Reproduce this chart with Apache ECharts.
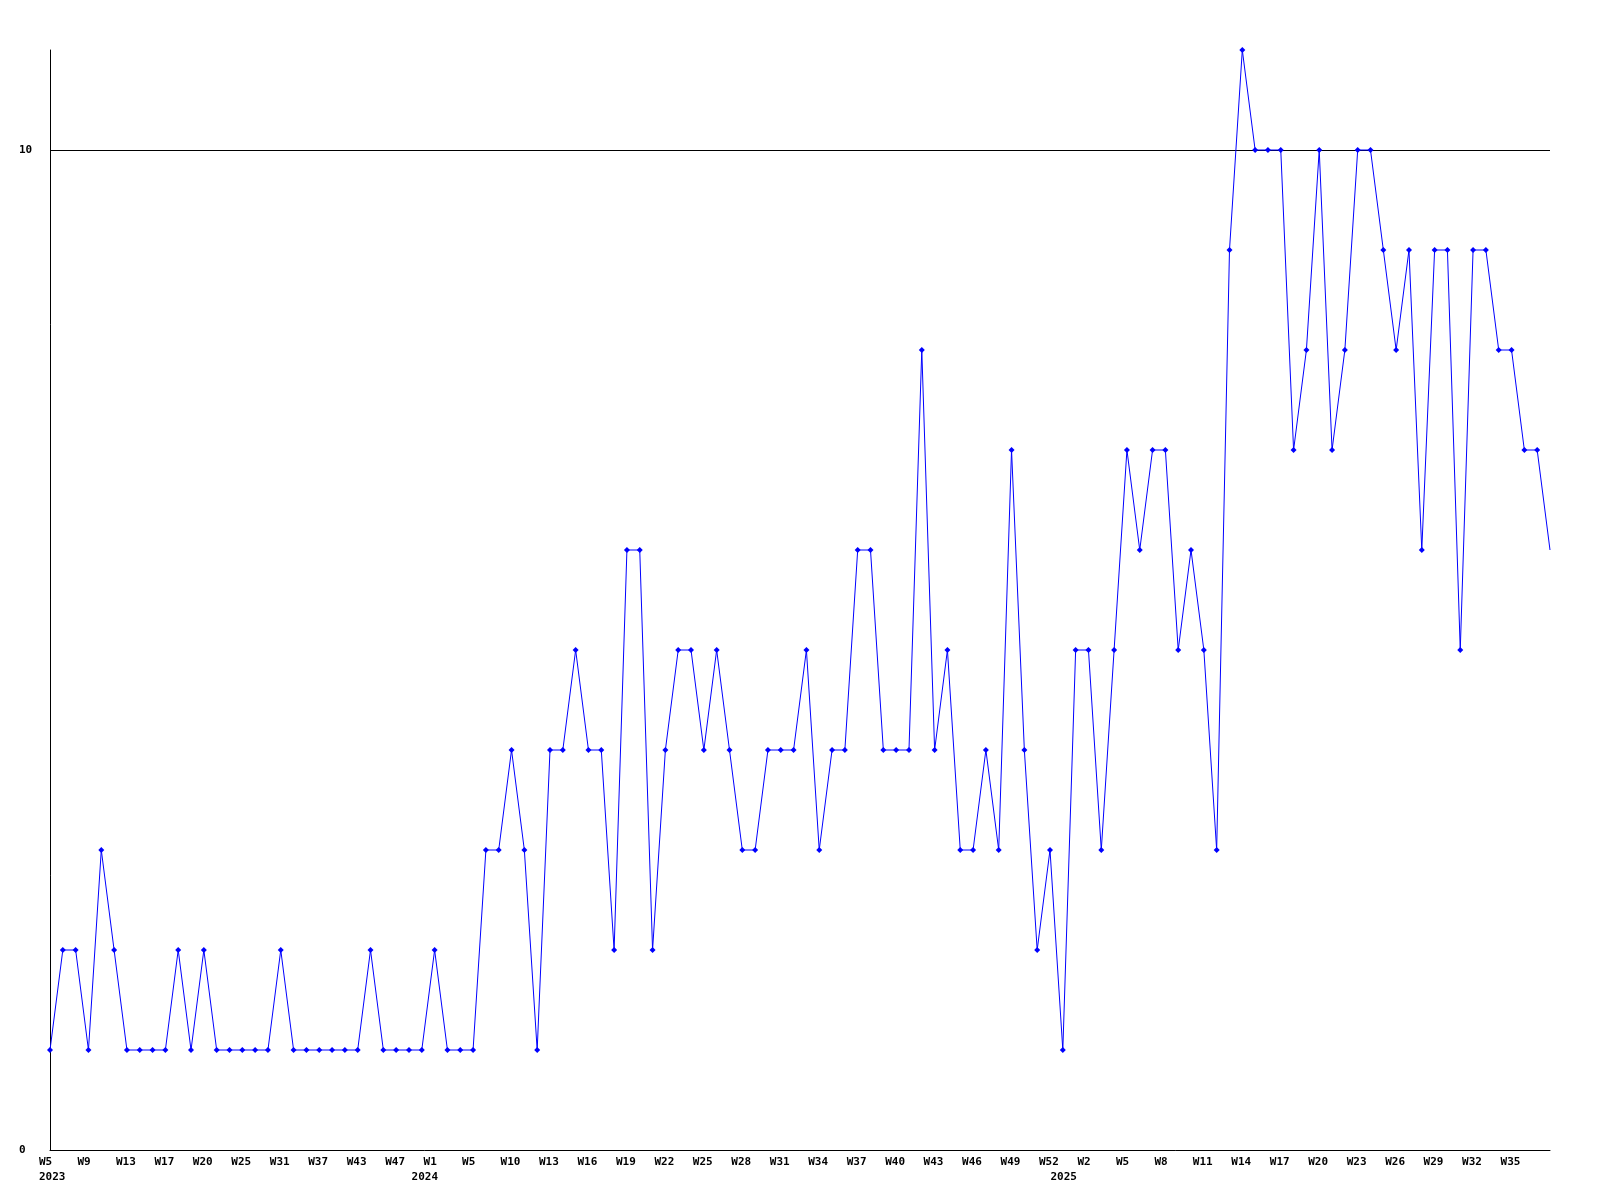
<!DOCTYPE html>
<html>
<head>
<meta charset="utf-8">
<title>weekly</title>
<script src="https://cdn.jsdelivr.net/npm/echarts@6/dist/echarts.min.js"></script>
<style>
    html, body { margin: 0; padding: 0; background: #fff; }
    #chart { width: 1600px; height: 1200px; }
</style>
</head>
<body>
<div id="chart"></div>
<script>
//************************* data ******************************//
// weeks shown on the x axis (only every 3rd one gets a label)
var weeks = [
    '2023-W5','2023-W6','2023-W7','2023-W9','2023-W10','2023-W12','2023-W13','2023-W14','2023-W16','2023-W17',
    '2023-W18','2023-W19','2023-W20','2023-W22','2023-W24','2023-W25','2023-W27','2023-W29','2023-W31','2023-W33',
    '2023-W35','2023-W37','2023-W39','2023-W41','2023-W43','2023-W44','2023-W46','2023-W47','2023-W49','2023-W51',
    '2024-W1','2024-W2','2024-W4','2024-W5','2024-W7','2024-W8','2024-W10','2024-W11','2024-W12','2024-W13',
    '2024-W14','2024-W15','2024-W16','2024-W17','2024-W18','2024-W19','2024-W20','2024-W21','2024-W22','2024-W23',
    '2024-W24','2024-W25','2024-W26','2024-W27','2024-W28','2024-W29','2024-W30','2024-W31','2024-W32','2024-W33',
    '2024-W34','2024-W35','2024-W36','2024-W37','2024-W38','2024-W39','2024-W40','2024-W41','2024-W42','2024-W43',
    '2024-W44','2024-W45','2024-W46','2024-W47','2024-W48','2024-W49','2024-W50','2024-W51','2024-W52','2024-W53',
    '2025-W1','2025-W2','2025-W3','2025-W4','2025-W5','2025-W6','2025-W7','2025-W8','2025-W9','2025-W10',
    '2025-W11','2025-W12','2025-W13','2025-W14','2025-W15','2025-W16','2025-W17','2025-W18','2025-W19','2025-W20',
    '2025-W21','2025-W22','2025-W23','2025-W24','2025-W25','2025-W26','2025-W27','2025-W28','2025-W29','2025-W30',
    '2025-W31','2025-W32','2025-W33','2025-W34','2025-W35','2025-W36','2025-W37','2025-W38'
];
// count per week
var counts = [
    1,2,2,1,3,2,1,1,1,1,
    2,1,2,1,1,1,1,1,2,1,
    1,1,1,1,1,2,1,1,1,1,
    2,1,1,1,3,3,4,3,1,4,
    4,5,4,4,2,6,6,2,4,5,
    5,4,5,4,3,3,4,4,4,5,
    3,4,4,6,6,4,4,4,8,4,
    5,3,3,4,3,7,4,2,3,1,
    5,5,3,5,7,6,7,7,5,6,
    5,3,9,11,10,10,10,7,8,10,
    7,8,10,10,9,8,9,6,9,9,
    5,9,9,8,8,7,7,6
];
var yTicks = [0, 10];

//************************* chart ******************************//
function weeklyChart(){
    var myChart = echarts.init(document.getElementById('chart'));
    var font = '"DejaVu Sans Mono", monospace';
    var txt = { fontFamily: font, fontWeight: 'bold', fontSize: 11, color: '#000', lineHeight: 15 };

    // year text sits a little left of the week text, by year
    var yearShift = { '2023': 0, '2024': -12, '2025': -27 };
    var rich = { w: txt };
    for(var y in yearShift){
        rich['y' + y] = Object.assign({ padding: [0, 0, 0, yearShift[y]] }, txt);
    }

    // last point sits on the right edge, no marker drawn there
    var seriesData = counts.map(function(v, i){
        if(i == counts.length - 1){ return {value: v, symbol: 'none'}; }
        return v;
    });

    var option = {
        animation: false,
        backgroundColor: '#fff',
        grid: { left: 50, right: 50, top: 50, bottom: 50, containLabel: false },
        xAxis: {
            type: 'category',
            data: weeks,
            boundaryGap: false,
            axisLine: { lineStyle: { color: '#000', width: 1 } },
            axisTick: { show: false },
            splitLine: { show: false },
            axisLabel: {
                interval: 2,
                margin: 5,
                align: 'left',
                padding: [0, 0, 0, -11],
                rich: rich,
                formatter: function(value, index){
                    if(index == weeks.length - 1){ return ''; } //右边缘不显示
                    var p = value.split('-');
                    var s = '{w|' + p[1] + '}';
                    // year goes under the first label of each year
                    if(index == 0 || weeks[index - 3].split('-')[0] != p[0]){
                        s += '\n{y' + p[0] + '|' + p[0] + '}';
                    }
                    return s;
                }
            }
        },
        yAxis: {
            type: 'value',
            min: 0,
            max: 11,
            interval: 10,
            axisLine: { show: true, lineStyle: { color: '#000', width: 1 } },
            axisTick: { show: false },
            splitLine: {
                show: true,
                showMinLine: false,
                showMaxLine: false,
                lineStyle: { color: '#000', width: 1 }
            },
            axisLabel: {
                margin: 31,
                align: 'left',
                color: '#000',
                fontFamily: font,
                fontWeight: 'bold',
                fontSize: 11,
                showMaxLabel: false,
                formatter: function(v){
                    return yTicks.indexOf(v) >= 0 ? String(v) : '';
                }
            }
        },
        series: [{
            type: 'line',
            data: seriesData,
            showSymbol: true,
            showAllSymbol: true,
            symbol: 'diamond',
            symbolSize: 6,
            itemStyle: { color: '#0000ff' },
            lineStyle: { color: '#0000ff', width: 1 },
            emphasis: { disabled: true }
        }]
    };
    myChart.setOption(option);
    window.onresize = myChart.resize;
}
weeklyChart();
</script>
</body>
</html>
